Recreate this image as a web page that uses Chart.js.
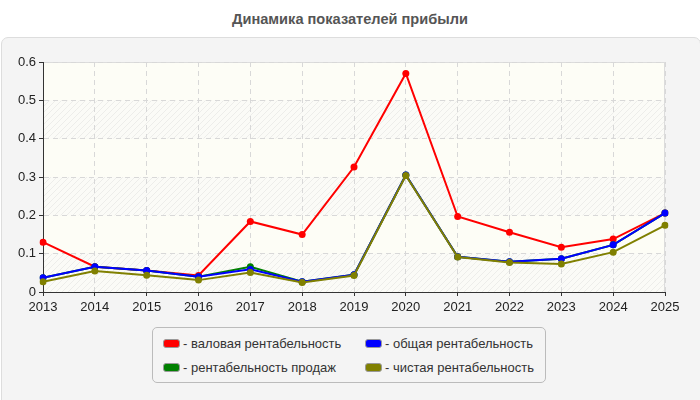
<!DOCTYPE html>
<html lang="ru">
<head>
<meta charset="utf-8">
<script src="https://cdn.jsdelivr.net/npm/chart.js@4"></script>
<style>
  html, body { margin: 0; padding: 0; background: #fff; }
  body { width: 700px; height: 400px; position: relative; overflow: hidden; font-family: "Liberation Sans", Arial, sans-serif; }
  #title { position: absolute; top: 11px; left: 0; width: 700px; text-align: center; font-size: 14.6px; font-weight: bold; color: #555; }
  #panel { position: absolute; left: 1px; top: 37px; width: 700px; height: 370px; background: #f4f4f4; border: 1px solid #ddd; border-radius: 7px; box-sizing: border-box; }
  #wrap { position: absolute; left: 0; top: 0; width: 700px; height: 400px; }
  #legend { position: absolute; left: 152px; top: 327px; width: 394px; height: 56px; box-sizing: border-box; border: 1px solid #bbb; border-radius: 5px; background: #f4f4f4;
            display: grid; grid-template-columns: 202px 180px; padding: 7px 0 0 10px; font-size: 13px; color: #333; row-gap: 2px; }
  .item { display: flex; align-items: center; white-space: nowrap; height: 16px; }
  .box { flex: 0 0 auto; width: 17px; height: 9px; border-radius: 3px; border: 1px solid #999; margin-right: 3px; box-sizing: border-box; }
</style>
</head>
<body>
<div id="title">Динамика показателей прибыли</div>
<div id="panel"></div>
<div id="wrap"><canvas id="chart" width="700" height="400"></canvas></div>
<div id="legend"></div>
<script>
(function () {
  "use strict";

  // data
  const years = ["2013", "2014", "2015", "2016", "2017", "2018", "2019", "2020", "2021", "2022", "2023", "2024", "2025"];
  const grossMargin = [0.130, 0.066, 0.056, 0.043, 0.184, 0.150, 0.326, 0.570, 0.197, 0.156, 0.117, 0.138, 0.206];
  const salesMargin = [0.037, 0.066, 0.056, 0.040, 0.066, 0.027, 0.045, 0.305, 0.092, 0.079, 0.087, 0.123, 0.206];
  const totalMargin = [0.037, 0.066, 0.056, 0.040, 0.059, 0.027, 0.045, 0.305, 0.092, 0.079, 0.087, 0.123, 0.206];
  const netMargin   = [0.027, 0.055, 0.044, 0.031, 0.051, 0.025, 0.043, 0.304, 0.091, 0.077, 0.073, 0.104, 0.174];
  const yTicks = [0, 0.1, 0.2, 0.3, 0.4, 0.5, 0.6];

  // plot background: pale bands, every other one hatched, plus a frame
  function makeHatch(ctx) {
    const c = document.createElement("canvas");
    c.width = 6; c.height = 6;
    const g = c.getContext("2d");
    g.fillStyle = "#fbfbf7";
    g.fillRect(0, 0, 6, 6);
    g.strokeStyle = "#ededea";
    g.lineWidth = 1;
    g.beginPath();
    g.moveTo(0, 6); g.lineTo(6, 0);
    g.moveTo(-3, 3); g.lineTo(3, -3);
    g.moveTo(3, 9); g.lineTo(9, 3);
    g.stroke();
    return ctx.createPattern(c, "repeat");
  }

  const plotBg = {
    id: "plotBg",
    beforeDraw(chart) {
      const { ctx, chartArea: a, scales: { y } } = chart;
      ctx.save();
      ctx.fillStyle = "#fdfdf6";
      ctx.fillRect(a.left, a.top, a.width, a.height);
      const hatch = makeHatch(ctx);
      for (let i = 0; i < yTicks.length - 1; i += 2) {
        const y0 = y.getPixelForValue(yTicks[i]);
        const y1 = y.getPixelForValue(yTicks[i + 1]);
        ctx.fillStyle = hatch;
        ctx.fillRect(a.left, y1, a.width, y0 - y1);
      }
      ctx.strokeStyle = "#dcdcdc";
      ctx.lineWidth = 1;
      ctx.strokeRect(a.left + 0.5, a.top + 0.5, a.width - 1, a.height);
      ctx.restore();
    }
  };

  function series(label, data, color, order) {
    return {
      label, data, order,
      borderColor: color,
      backgroundColor: color,
      borderWidth: 2,
      pointRadius: 3.5,
      pointHoverRadius: 3.5,
      pointBorderWidth: 0,
      tension: 0
    };
  }

  const datasets = [
    series("- валовая рентабельность", grossMargin, "#ff0000", 3),
    series("- общая рентабельность", totalMargin, "#0000ff", 1),
    series("- рентабельность продаж", salesMargin, "#008000", 2),
    series("- чистая рентабельность", netMargin, "#808000", 0)
  ];

  Chart.defaults.font.family = "'Liberation Sans', Arial, sans-serif";

  new Chart(document.getElementById("chart"), {
    type: "line",
    data: { labels: years, datasets },
    plugins: [plotBg],
    options: {
      responsive: false,
      animation: false,
      layout: { padding: { left: 0, right: 35, top: 62, bottom: 89 } },
      plugins: { legend: { display: false }, title: { display: false }, tooltip: { enabled: false } },
      scales: {
        x: {
          offset: false,
          afterFit(s) { s.height = 19; },
          grid: { color: "#d8d8d8", tickColor: "#333", tickLength: 4, tickBorderDash: [] },
          border: { display: true, color: "#333", width: 1, dash: [5, 4] },
          ticks: { color: "#222", font: { size: 13 }, padding: 4, maxRotation: 0, autoSkip: false }
        },
        y: {
          min: 0, max: 0.6,
          afterFit(s) { s.width = 43; },
          afterBuildTicks(s) { s.ticks = yTicks.map(v => ({ value: v })); },
          grid: { color: "#d8d8d8", tickColor: "#333", tickLength: 4, tickBorderDash: [] },
          border: { display: true, color: "#333", width: 1, dash: [5, 4] },
          ticks: { color: "#222", font: { size: 13 }, padding: 3, callback: v => String(v) }
        }
      }
    }
  });

  // legend as html, two columns
  const legend = document.getElementById("legend");
  datasets.forEach(function (d) {
    const item = document.createElement("div");
    item.className = "item";
    item.innerHTML = '<span class="box" style="background:' + d.borderColor + '"></span>' + d.label;
    legend.appendChild(item);
  });
})();
</script>
</body>
</html>
